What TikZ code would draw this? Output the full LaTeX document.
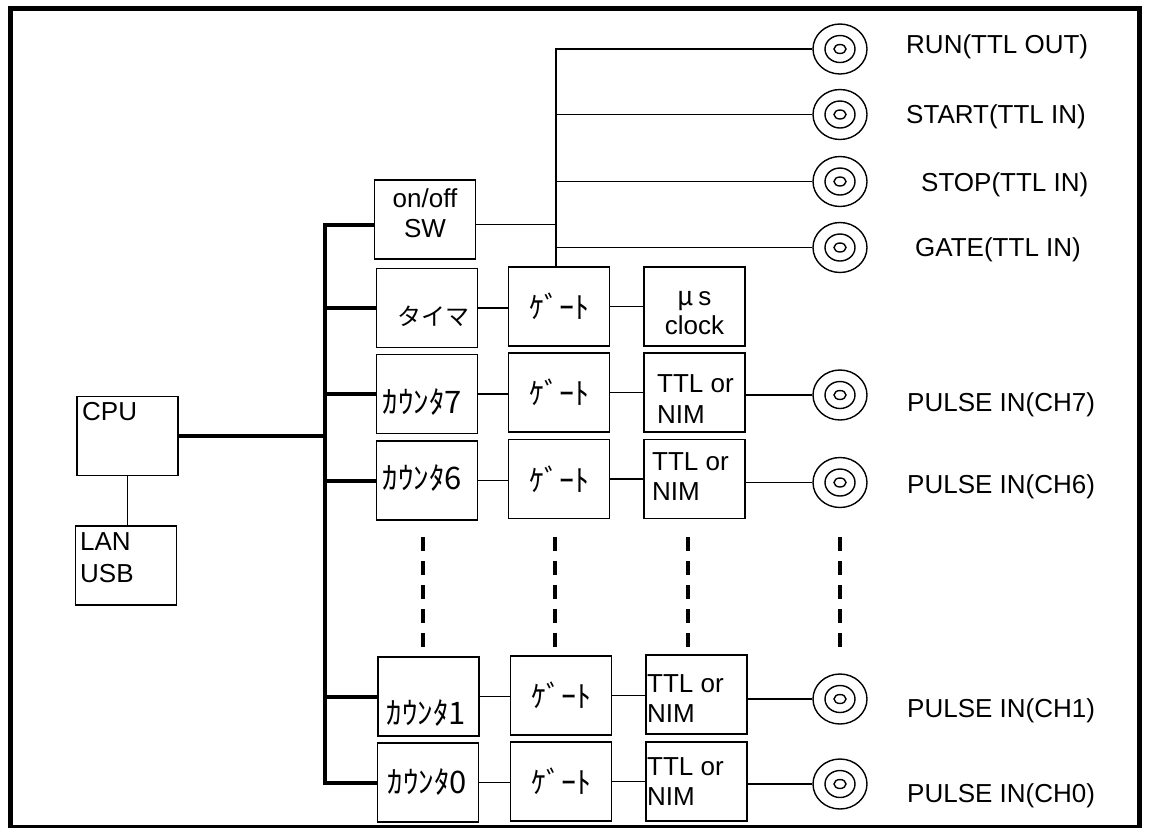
\documentclass[tikz,border=0pt]{standalone}
\usepackage{fontspec}
\setmainfont{Liberation Sans}
\newfontfamily\jp{Noto Sans CJK JP}
\usetikzlibrary{shapes.geometric}
\tikzset{
  every picture/.style={x=1pt, y=-1pt, font=\fontsize{26}{31}\selectfont},
  blk/.style={draw, line width=1.8pt, minimum width=101pt, minimum height=79pt, inner sep=0pt, align=center},
  kana/.style={font=\jp\fontsize{#1}{31}\selectfont},
  txt/.style={anchor=west, inner sep=0pt, align=left},
  bus/.style={line width=4pt},
  wire/.style={line width=1.5pt},
  dots/.style={line width=3.2pt, dash pattern=on 14pt off 10pt},
  jack/.style={ellipse, draw, line width=1.4pt, minimum width=54pt, minimum height=50pt, inner sep=0pt,
    path picture={\draw[line width=1.4pt]
      (path picture bounding box.center) ellipse [x radius=15pt, y radius=13.5pt]
      (path picture bounding box.center) ellipse [x radius=6pt, y radius=4.5pt];}},
}
\begin{document}
\begin{tikzpicture}
  \useasboundingbox (0,0) rectangle (1149,828);
  % frame
  \draw[line width=5pt] (10,828) -- (10,8.5) -- (1139.5,8.5) -- (1139.5,828);
  \draw[line width=3pt] (7.5,826.5) -- (1142,826.5);

  % host side
  \node[blk] (cpu) at (127.5,436) {};
  \node[txt] (cpuname) at (82,412) {CPU};
  \node[blk] (lan) at (126,565.5) {};
  \node[txt, font=\fontsize{26}{32}\selectfont] (lanname) at (80,558) {LAN\\USB};

  % first column
  \node[blk] (sw) at (425,219.5) {};
  \node[align=center, inner sep=0pt, font=\fontsize{26}{30}\selectfont] (swname) at (425,213) {on/off\\SW};
  \node[blk] (tim) at (427,308) {};
  \node[kana=24] (timname) at (433,316) {タイマ};
  \node[blk] (cnt7) at (427,394) {};
  \node[kana=31] (cnt7name) at (422.5,401.5) {ｶｳﾝﾀ7};
  \node[blk] (cnt6) at (427,480.5) {};
  \node[kana=31] (cnt6name) at (422.5,477.5) {ｶｳﾝﾀ6};
  \node[blk] (cnt1) at (428.5,696.5) {};
  \node[kana=31] (cnt1name) at (426.5,713) {ｶｳﾝﾀ1};
  \node[blk] (cnt0) at (428,782.5) {};
  \node[kana=31] (cnt0name) at (427.5,782) {ｶｳﾝﾀ0};

  % gates
  \node[blk, kana=30] (gt) at (559,306.5) {ｹﾞｰﾄ};
  \node[blk, kana=30] (g7) at (559,392.5) {ｹﾞｰﾄ};
  \node[blk, kana=30] (g6) at (559,479) {ｹﾞｰﾄ};
  \node[blk, kana=30] (g1) at (561,695.5) {ｹﾞｰﾄ};
  \node[blk, kana=30] (g0) at (561,781.5) {ｹﾞｰﾄ};

  % third column
  \node[blk] (clk) at (694.5,306.5) {};
  \node[align=center, inner sep=0pt, font=\fontsize{26}{29}\selectfont] (clkname) at (694.5,313) {{\jp μ}\,s\\clock};
  \node[blk] (t7) at (694.5,392.5) {};
  \node[txt] (t7name) at (657,399) {TTL or\\NIM};
  \node[blk] (t6) at (694.5,479) {};
  \node[txt, font=\fontsize{26}{30}\selectfont] (t6name) at (652,476.5) {TTL or\\NIM};
  \node[blk] (t1) at (696.5,694.5) {};
  \node[txt, font=\fontsize{26}{29.5}\selectfont] (t1name) at (647,698.5) {TTL or\\NIM};
  \node[blk] (t0) at (696.5,781.5) {};
  \node[txt, font=\fontsize{26}{29.5}\selectfont] (t0name) at (647,781.5) {TTL or\\NIM};

  % jacks
  \node[jack] (jrun) at (840,49) {};
  \node[jack] (jstart) at (840,114.5) {};
  \node[jack] (jstop) at (840,181.5) {};
  \node[jack] (jgate) at (840,247.5) {};
  \node[jack] (j7) at (840,395) {};
  \node[jack] (j6) at (840,482.5) {};
  \node[jack] (j1) at (840,699) {};
  \node[jack] (j0) at (840,784) {};

  \node[txt] (lrun) at (906,47) {RUN(TTL OUT)};
  \node[txt] (lstart) at (906,116.5) {START(TTL IN)};
  \node[txt] (lstop) at (921,184.5) {STOP(TTL IN)};
  \node[txt] (lgate) at (915,249.5) {GATE(TTL IN)};
  \node[txt] (l7) at (907,405) {PULSE IN(CH7)};
  \node[txt] (l6) at (907,487) {PULSE IN(CH6)};
  \node[txt] (l1) at (907,710.5) {PULSE IN(CH1)};
  \node[txt] (l0) at (907,795.5) {PULSE IN(CH0)};

  % bus
  \coordinate (bustop) at (325,225);
  \coordinate (busend) at (325,783);
  \draw[bus] (sw.west |- bustop) -- (bustop) -- (busend) -- (cnt0.west |- busend);
  \draw[bus] (cpu.east) -- (cpu.east -| bustop);
  \draw[wire] (cpu.south) -- (cpu.south |- lan.north);
  \foreach \b in {tim,cnt7,cnt6,cnt1}
    \draw[bus] (\b.west) -- (\b.west -| bustop);

  % control lines
  \coordinate (tap) at (556,49);
  \draw[wire] (jrun.west) -- (tap) -- (tap |- gt.north);
  \foreach \j in {jstart,jstop,jgate}
    \draw[wire] (\j.west -| tap) -- (\j.west);
  \draw[wire] ([yshift=-5pt]sw.east) -- ([yshift=-5pt]sw.east -| tap);
  \draw[wire] (tim.east) -- (tim.east -| gt.west);
  \draw[wire] (gt.east) -- (gt.east -| clk.west);

  % channels
  \foreach \r in {7,6,1,0} {
    \draw[wire] (cnt\r.east) -- (cnt\r.east -| g\r.west);
    \draw[wire] (g\r.east) -- (g\r.east -| t\r.west);
    \draw[wire] (j\r.west -| t\r.east) -- (j\r.west);
  }
  \foreach \x in {423,555,688,840}
    \draw[dots] (\x,537) -- (\x,647);
\end{tikzpicture}
\end{document}
